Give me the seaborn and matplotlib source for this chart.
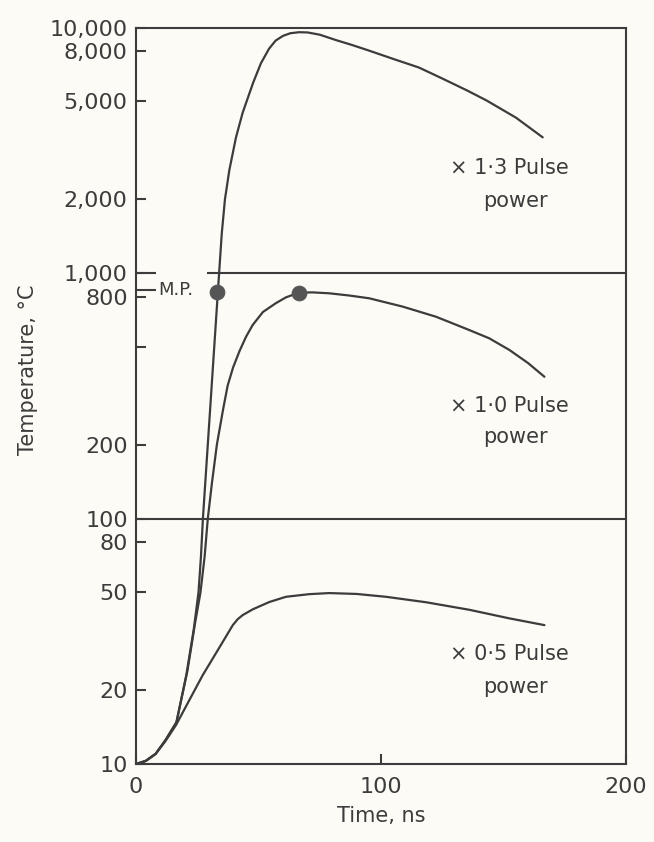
import pandas
import matplotlib.pyplot as plt
import seaborn as sns

# curve data (time in ns, temperature in deg C)
t_13 = [0, 4, 8, 12, 16.5, 20.5, 23.5, 25.5, 26.5, 27.3, 34, 35, 36.3, 38.1, 40.8, 43.5, 47.8, 51, 54.3,
        57, 60, 63, 66.5, 70, 75, 81.6, 88, 95, 105, 115.5, 125, 135, 143, 155, 166]
T_13 = [10, 10.3, 11, 12.5, 14.8, 23, 35, 50, 70, 100, 1030, 1450, 2000, 2630, 3570, 4490, 5960, 7160, 8200,
        8850, 9250, 9480, 9570, 9550, 9350, 8890, 8500, 8060, 7450, 6870, 6200, 5550, 5050, 4300, 3570]

t_10 = [0, 4, 8, 12, 16.5, 21, 24, 26.3, 28, 29.3, 31, 33, 35.5, 37.4, 39.6, 42.2, 44.9, 47.6, 51.8, 57.1,
        61.2, 66.5, 72, 78.8, 87, 95.2, 108.8, 122.4, 136, 144.2, 152.4, 160, 166.7]
T_10 = [10, 10.3, 11, 12.5, 14.8, 24, 37, 50, 70, 100, 140, 200, 277, 348, 412, 480, 550, 614, 694, 754,
        796, 832, 834, 827, 810, 789, 730, 664, 586, 542, 486, 430, 378]

t_05 = [0, 4, 8, 12, 16.3, 22, 27.2, 34, 39.5, 41.5, 43.5, 47.7, 54.4, 61.2, 70.7, 78.8, 90, 102, 118.4, 136,
        152.4, 166.7]
T_05 = [10, 10.3, 11, 12.4, 14.4, 18.4, 23, 29.8, 36.8, 38.9, 40.4, 42.7, 45.7, 48, 49.2, 49.7, 49.3, 48, 45.6,
        42.5, 39.2, 36.8]

# melting points reached
dot_t = [33, 66.5]
dot_T = [835, 832]
mp_temp = 850

ytick_vals = [10, 20, 50, 80, 100, 200, 500, 800, 1000, 2000, 5000, 8000, 10000]
ytick_labels = ['10', '20', '50', '80', '100', '200', '', '800', '1,000', '2,000', '5,000', '8,000', '10,000']
xtick_vals = [0, 100, 200]

sns.set_style('ticks')
plt.rcParams['font.family'] = ['DejaVu Sans']

ink = '#3c3c3c'
bg = '#fcfbf6'

fig = plt.figure(figsize=(6.54, 8.42), dpi=100, facecolor=bg)
ax = fig.add_axes([0.208, 0.0926, 0.7492, 0.8747])
ax.set_facecolor(bg)

for tt, TT in [(t_13, T_13), (t_10, T_10), (t_05, T_05)]:
    df = pandas.DataFrame({'t': tt, 'T': TT})
    sns.lineplot(data=df, x='t', y='T', ax=ax, color=ink, lw=1.6, estimator=None, sort=False)

sns.scatterplot(x=dot_t, y=dot_T, ax=ax, color='#555555', s=110, edgecolor='#555555', zorder=5)

ax.set_yscale('log')
ax.set_xlim(0, 200)
ax.set_ylim(10, 10000)

# separator lines at 100 and 1000
ax.hlines(100, 0, 200, color=ink, lw=1.5)
ax.hlines(1000, 29, 200, color=ink, lw=1.5)
# M.P. marks
ax.hlines([mp_temp, 1000], 0, 8, color=ink, lw=1.5)
ax.text(9, mp_temp, 'M.P.', fontsize=13, color=ink, va='center', ha='left')

ax.set_yticks(ytick_vals)
ax.set_yticklabels(ytick_labels)
ax.yaxis.set_minor_locator(plt.NullLocator())
ax.set_xticks(xtick_vals)
ax.tick_params(direction='in', length=7, width=1.5, colors=ink, labelsize=16, pad=6)
ax.tick_params(axis='x', pad=9)

for s in ax.spines.values():
    s.set_color(ink)
    s.set_linewidth(1.5)

ax.set_xlabel('Time, ns', fontsize=15, color=ink)
ax.set_ylabel('Temperature, °C', fontsize=15, color=ink)
ax.xaxis.set_label_coords(0.5, -0.057)
ax.yaxis.set_label_coords(-0.2, 0.535)

# curve labels
for y1, y2, lab in [(2530, 1862, '× 1·3 Pulse'), (272, 203, '× 1·0 Pulse'), (26.5, 19.5, '× 0·5 Pulse')]:
    ax.text(128, y1, lab, fontsize=15, color=ink, va='baseline', ha='left')
    ax.text(141.5, y2, 'power', fontsize=15, color=ink, va='baseline', ha='left')

fig.savefig('out.png', dpi=100, facecolor=bg)
